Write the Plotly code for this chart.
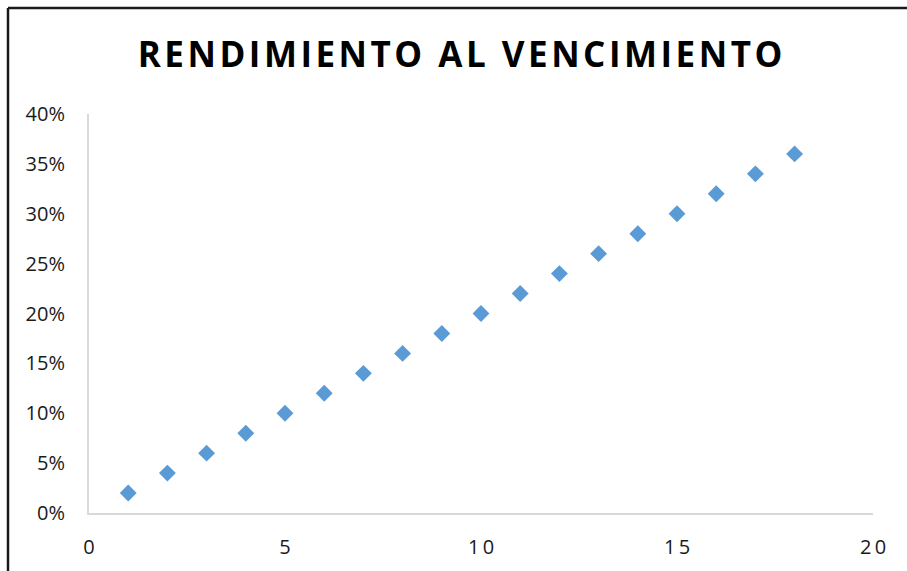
import plotly.graph_objects as go

# Years to maturity and corresponding yield
plazo = [1, 2, 3, 4, 5, 6, 7, 8, 9, 10, 11, 12, 13, 14, 15, 16, 17, 18]
rendimiento = [0.02, 0.04, 0.06, 0.08, 0.10, 0.12, 0.14, 0.16, 0.18, 0.20,
               0.22, 0.24, 0.26, 0.28, 0.30, 0.32, 0.34, 0.36]

x_ticks = [0, 5, 10, 15, 20]
y_ticks = [0, 0.05, 0.10, 0.15, 0.20, 0.25, 0.30, 0.35, 0.40]

titulo = "RENDIMIENTO AL VENCIMIENTO"

W, H = 907, 571
L, R, T, B = 89, 34, 114, 58

fig = go.Figure()
fig.add_trace(go.Scatter(
    x=plazo, y=rendimiento, mode="markers",
    marker=dict(symbol="diamond", size=13, color="#5B9BD5",
                line=dict(width=0)),
    hoverinfo="x+y", showlegend=False,
))

# letter-spaced title and x tick labels
titulo_esp = "\u200a".join(titulo)
x_text = ["\u2009".join(str(v)) for v in x_ticks]

fig.update_layout(
    width=W, height=H,
    margin=dict(l=L, r=R, t=T, b=B),
    paper_bgcolor="white", plot_bgcolor="white",
    font=dict(family="Open Sans", color="#222222"),
    title=dict(text=titulo_esp, x=460 / W, xref="container", xanchor="center",
               y=1 - 55 / H, yanchor="middle",
               font=dict(family="Open Sans", size=35, weight="bold", color="#000000")),
    xaxis=dict(range=[0, 20], tickvals=x_ticks, ticktext=x_text,
               showgrid=False, zeroline=False, showline=True,
               linecolor="#D9D9D9", linewidth=2, ticks="", automargin=False,
               ticklabelstandoff=15,
               tickfont=dict(size=20, color="#1a1a1a")),
    yaxis=dict(range=[0, 0.4], tickvals=y_ticks, tickformat=".0%",
               showgrid=False, zeroline=False, showline=True,
               linecolor="#D9D9D9", linewidth=2, ticks="", automargin=False,
               ticklabelstandoff=18,
               tickfont=dict(size=20, color="#1a1a1a")),
)

# chart frame (top and left edges visible)
pw, ph = W - L - R, H - T - B
x0 = (8 - L) / pw
y0 = (H - B - 8) / ph
fig.add_shape(type="line", xref="paper", yref="paper",
              x0=x0, y0=y0, x1=(W + 20 - L) / pw, y1=y0,
              line=dict(color="#1a1a1a", width=2.5))
fig.add_shape(type="line", xref="paper", yref="paper",
              x0=x0, y0=y0, x1=x0, y1=-(B + 20) / ph,
              line=dict(color="#1a1a1a", width=2.5))

fig.write_html("out.html")
